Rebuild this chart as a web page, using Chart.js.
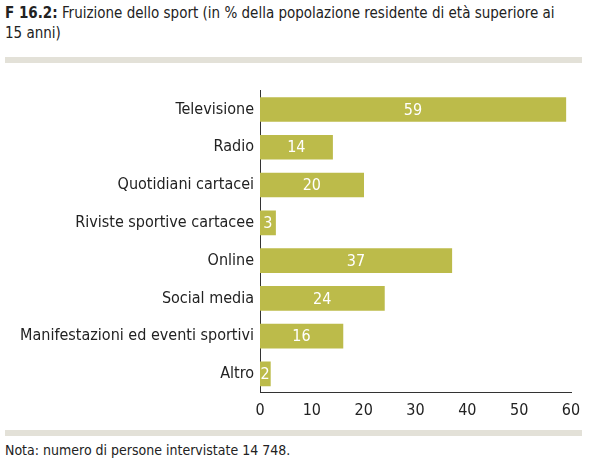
<!DOCTYPE html>
<html><head><meta charset="utf-8">
<script src="https://cdn.jsdelivr.net/npm/chart.js@4/dist/chart.umd.min.js"></script>
<style>
body{margin:0;width:591px;height:463px;position:relative;background:#fff;font-family:"DejaVu Sans Condensed","DejaVu Sans",sans-serif;color:#222;overflow:hidden}
#title{position:absolute;left:5px;top:3px;width:570px;font-size:15px;line-height:20px}
.bar{position:absolute;left:5px;width:577px;height:6px;background:#e3e1d8}
#note{position:absolute;left:5px;top:442px;font-size:14px}
#wrap{position:absolute;left:0;top:75px;width:591px;height:347px}
</style></head><body>
<div id="title"><b>F 16.2:</b> Fruizione dello sport (in % della popolazione residente di età superiore ai 15 anni)</div>
<div class="bar" style="top:57px"></div>
<div id="wrap"><canvas id="c"></canvas></div>
<div class="bar" style="top:430px"></div>
<div id="note">Nota: numero di persone intervistate 14 748.</div>
<script>
const categories=["Televisione","Radio","Quotidiani cartacei","Riviste sportive cartacee","Online","Social media","Manifestazioni ed eventi sportivi","Altro"];
const values=[59,14,20,3,37,24,16,2];
const xTicks=[0,10,20,30,40,50,60];
const F='"DejaVu Sans Condensed","DejaVu Sans",sans-serif';
const labels={id:'labels',afterDatasetsDraw(ch){const c=ch.ctx;c.save();c.fillStyle='#fff';c.font='16px '+F;c.textAlign='center';c.textBaseline='middle';
ch.getDatasetMeta(0).data.forEach((b,i)=>{c.fillText(values[i],(b.x+b.base)/2,b.y+1);});c.restore();}};
new Chart(document.getElementById('c'),{type:'bar',
data:{labels:categories,datasets:[{data:values,backgroundColor:'#bcbb4a',barThickness:24}]},
options:{indexAxis:'y',responsive:true,maintainAspectRatio:false,animation:false,
layout:{padding:{top:10,right:20,left:0,bottom:0}},
plugins:{legend:{display:false},tooltip:{enabled:false}},
scales:{
y:{afterFit(s){s.width=260;},grid:{display:false,drawTicks:false},border:{color:'#333'},ticks:{color:'#222',font:{family:F,size:16},padding:6}},
x:{min:0,max:60,afterBuildTicks(s){s.ticks=xTicks.map(v=>({value:v}));},grid:{display:false,drawOnChartArea:false,drawTicks:true,tickLength:6,color:'#333'},border:{color:'#333'},ticks:{color:'#222',font:{family:F,size:16},padding:2}}
}},plugins:[labels]});
</script></body></html>
